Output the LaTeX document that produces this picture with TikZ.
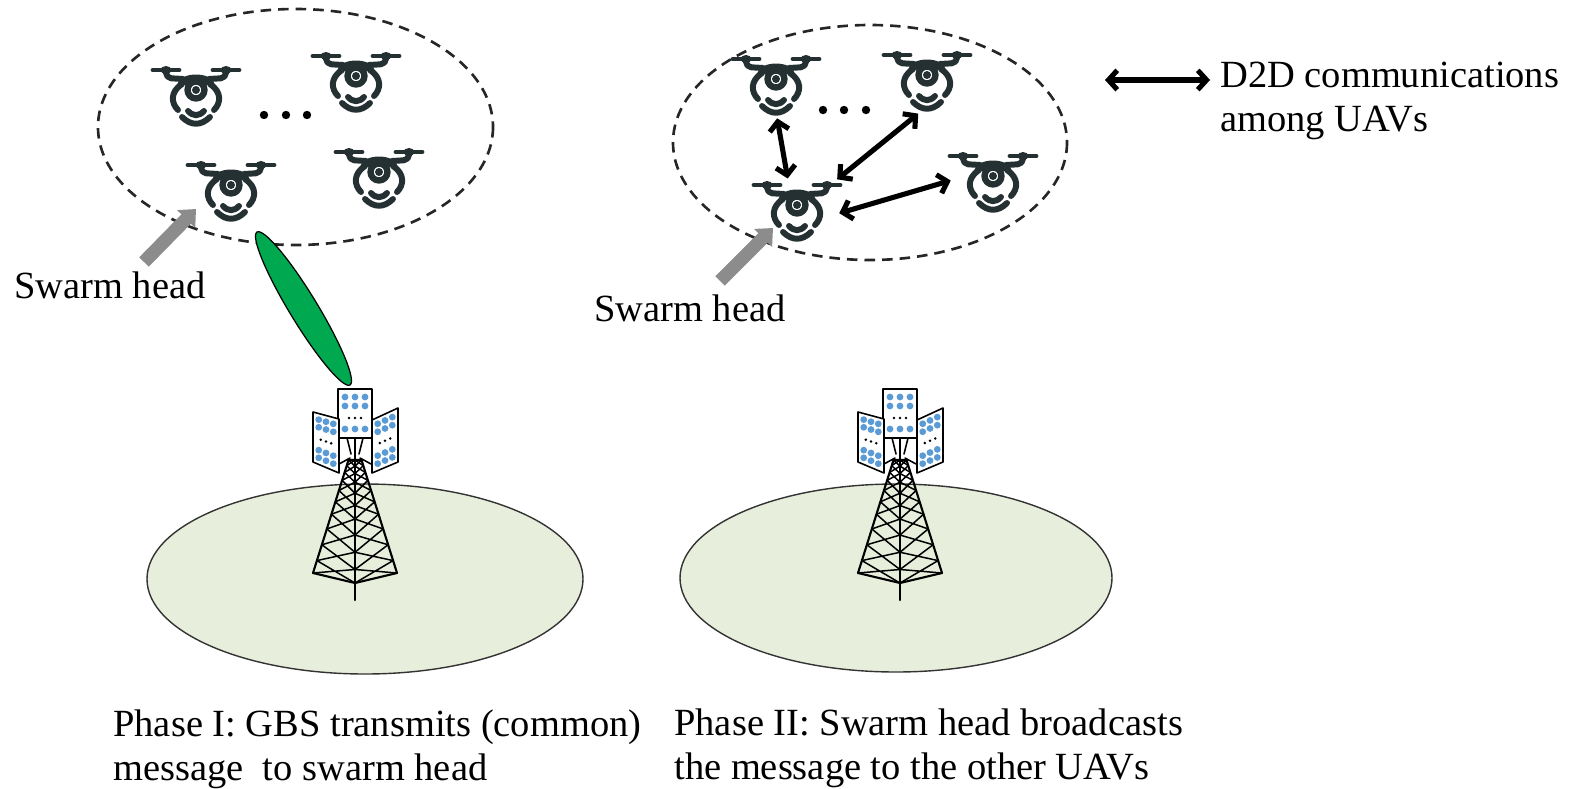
\documentclass[tikz,border=0pt]{standalone}
\usepackage{fontspec}
\setmainfont{Liberation Serif}
\usetikzlibrary{arrows.meta,shapes.geometric,calc}
\definecolor{dronecol}{HTML}{243032}
\definecolor{groundfill}{HTML}{E8EEDC}
\definecolor{beamgreen}{HTML}{00A94F}
\definecolor{panelblue}{HTML}{5B9BD5}
\definecolor{pointergray}{HTML}{8C8C8C}
\tikzset{
  pics/drone/.style={code={
    \begin{scope}[shift={(0,-6)}, dronecol, line cap=round, line join=round]
      % rotors
      \draw[line width=2.8pt] (-43,-20) -- (-17,-20) (17,-20) -- (43,-20);
      \fill (-30,-20) ellipse (5.5 and 4);
      \fill (30,-20) ellipse (5.5 and 4);
      % arms
      \draw[line width=3.4pt, rounded corners=3] (-30,-19) -- (-30,-12) -- (-13,-11);
      \draw[line width=3.4pt, rounded corners=3] (30,-19) -- (30,-12) -- (13,-11);
      % fuselage
      \fill (-19,-5) .. controls (-17,-19) and (17,-19) .. (19,-5) -- cycle;
      % landing legs
      \draw[line width=3.4pt] (-14,-6) .. controls (-26,2) and (-25,13) .. (-18,20);
      \draw[line width=3.4pt] (14,-6) .. controls (26,2) and (25,13) .. (18,20);
      % camera
      \draw[line width=3.6pt, fill=white] (0,0) circle (8.5);
      \fill (0,0) circle (4);
      % signal waves
      \draw[line width=3.4pt] (-8,21) .. controls (-3,26.5) and (3,26.5) .. (8,21);
      \draw[line width=3.4pt] (-14,27) .. controls (-5,36) and (5,36) .. (14,27);
    \end{scope}
  }},
  pics/tower/.style={code={
    \begin{scope}[line cap=round, line join=round]
      % lattice mast
      \draw[line width=1.2pt] (-6.5,20) -- (-42,133) -- (0,143) -- (42,133) -- (6.5,20) -- cycle;
      \draw[line width=1.2pt] (0,-2) -- (0,160);
      \foreach \a/\b in {0/0.05,0.05/0.11,0.11/0.18,0.18/0.27,0.27/0.37,0.37/0.48,0.48/0.61,0.61/0.75,0.75/0.89,0.89/1}{
        \draw[line width=0.85pt] ({-6.5-35.5*\a},{20+113*\a}) -- (0,{20+123*\b})
            (0,{20+123*\a}) -- ({-6.5-35.5*\b},{20+113*\b})
            ({6.5+35.5*\a},{20+113*\a}) -- (0,{20+123*\b})
            (0,{20+123*\a}) -- ({6.5+35.5*\b},{20+113*\b});
      }
      % panel brackets
      \draw[line width=0.9pt] (-16,24) -- (-5,18) (16,24) -- (5,18) (-8,-2) -- (-4,14) (8,-2) -- (4,14);
      % antenna panels
      \draw[fill=white, line width=0.9pt] (-17,-51) rectangle (17,-2);
      \draw[fill=white, line width=0.9pt] (-42,-28) -- (-16,-21) -- (-16,33) -- (-42,22) -- cycle;
      \draw[fill=white, line width=0.9pt] (17,-20) -- (43,-32) -- (43,22) -- (17,33) -- cycle;
      % radiating elements
      \foreach \x in {-10,0,10}{
        \foreach \y in {-43,-34,-11}{\fill[panelblue] (\x,\y) circle (3.4);}
        \fill ({0.6*\x},-22) circle (1.4);
      }
      \foreach \u in {0.22,0.5,0.78}{
        \foreach \v in {0.12,0.27,0.72,0.87}{
          \fill[panelblue] ({-42+26*\u},{-28+7*\u+\v*(50+4*\u)}) circle (3.4);
          \fill[panelblue] ({17+26*\u},{-20-12*\u+\v*(53+\u)}) circle (3.4);
        }
      }
      \foreach \u in {0.3,0.5,0.7}{
        \fill ({-42+26*\u},{-28+7*\u+0.5*(50+4*\u)}) circle (1.4);
        \fill ({17+26*\u},{-20-12*\u+0.5*(53+\u)}) circle (1.4);
      }
    \end{scope}
  }}
}
\begin{document}
\begin{tikzpicture}[x=0.02cm,y=-0.02cm,
  lbl/.style={font=\fontsize{21.9pt}{24.9pt}\selectfont, inner sep=0pt, anchor=base west, align=left},
  swarm/.style={draw=black!85, dash pattern=on 6pt off 4pt, line width=1.5pt},
  ground/.style={draw=black!80, fill=groundfill, line width=0.8pt},
  uav/.style={ellipse, minimum width=1.68cm, minimum height=1.32cm, inner sep=0pt},
  d2d/.style={{Straight Barb[length=5pt,width=11pt]}-{Straight Barb[length=5pt,width=11pt]}, line width=2.9pt},
  pointer/.style={draw=pointergray, fill=pointergray, line width=7.6pt, -{Triangle[length=8pt,width=14pt]}},
  beam/.style={draw=black, fill=beamgreen, line width=0.7pt}
]
\useasboundingbox (0,0) rectangle (1574,788);

% ground coverage areas
\draw[ground] (365,579) ellipse (218 and 95);
\draw[ground] (896,578) ellipse (216 and 94);

% base stations
\pic at (355,440) {tower};
\pic at (900,440) {tower};

% swarm regions
\draw[swarm] (295.5,127) ellipse (197.5 and 118);
\draw[swarm] (870,142.5) ellipse (197 and 117.5);

% phase I swarm
\node[uav] (l1) at (196,96) {};
\node[uav] (l2) at (356,82) {};
\node[uav] (lh) at (231,191) {};
\node[uav] (l4) at (379,178) {};
\foreach \n in {l1,l2,lh,l4} \pic at (\n) {drone};
\foreach \x in {264,286,307} \fill (\x,115) circle (4.2);

% phase II swarm
\node[uav] (r1) at (776,85) {};
\node[uav] (r2) at (927,81) {};
\node[uav] (rh) at (797,211) {};
\node[uav] (r4) at (993,182) {};
\foreach \n in {r1,r2,rh,r4} \pic at (\n) {drone};
\foreach \x in {823,844,866} \fill (\x,110) circle (4.2);

% D2D links
\draw[d2d] (r1.-88) -- (rh.106);
\draw[d2d, shorten >=7.4pt] (r2.255) -- (rh.38);
\draw[d2d] (r4.178) -- (rh.-3);

% swarm head pointers
\coordinate (pl0) at (144,262);
\coordinate (pl1) at (196,209);
\coordinate (pr0) at (720,281);
\coordinate (pr1) at (773,228);
\draw[pointer] (pl0) -- (pl1);
\draw[pointer] (pr0) -- (pr1);

% GBS beam towards the swarm head
\draw[beam, rotate around={-58.7:(303.5,308.5)}] (303.5,308.5) ellipse (89.5 and 14);

% labels
\node[lbl] (swL) at (14,298) {Swarm head};
\node[lbl] (swR) at (594,321) {Swarm head};
\node[lbl] (ph1) at (113,780) {Phase I: GBS transmits (common)\\message~ to swarm head};
\node[lbl] (ph2) at (674,779) {Phase II: Swarm head broadcasts\\the message to the other UAVs};

% legend
\node[lbl] (legend) at (1220,131) {D2D communications\\among UAVs};
\coordinate (lg) at (1105,80);
\draw[d2d, shorten >=5.7pt] (lg) -- (lg -| legend.west);
\end{tikzpicture}
\end{document}
